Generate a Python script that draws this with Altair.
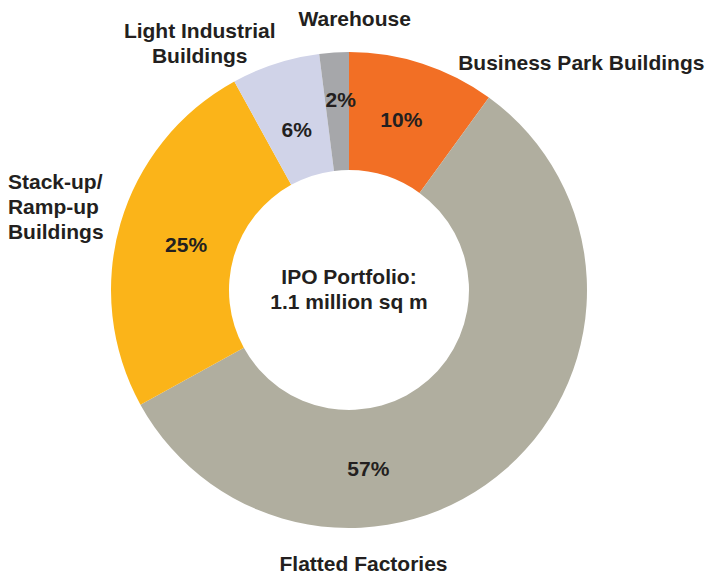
import altair as alt
import pandas as pd

categories = ["Business Park Buildings", "Flatted Factories", "Stack-up/Ramp-up Buildings",
              "Light Industrial Buildings", "Warehouse"]
label_lines = ["Business Park Buildings", "Flatted Factories", "Stack-up/\nRamp-up\nBuildings",
               "Light Industrial\nBuildings", "Warehouse"]
shares = [10, 57, 25, 6, 2]
colors = ["#F26F25", "#B0AE9F", "#FBB419", "#D0D3E8", "#A6A7AA"]
center_text = "IPO Portfolio:\n1.1 million sq m"

df = pd.DataFrame({"category": categories, "label": label_lines, "share": shares,
                   "rank": list(range(len(categories)))})
df["pct"] = df["share"].astype(str) + "%"

FONT = "Liberation Sans, Arial, Helvetica, sans-serif"
TXT = "#231F20"
FS = 21
LH = 25
CX, CY = 341, 282
R_OUT, R_IN = 238, 120

base = alt.Chart(df).encode(
    theta=alt.Theta("share:Q", stack=True),
    order=alt.Order("rank:Q", sort="ascending"),
    x=alt.value(CX), y=alt.value(CY),
)

arcs = base.mark_arc(radius=R_OUT, innerRadius=R_IN).encode(
    color=alt.Color("category:N", scale=alt.Scale(domain=categories, range=colors), legend=None)
)


def label_layer(cat, field, r, dx, dy, align="center"):
    return base.transform_calculate(
        t=f"datum.category === '{cat}' ? datum.{field} : ''"
    ).mark_text(
        radius=r, dx=dx, dy=dy, align=align, baseline="middle", font=FONT, fontSize=FS,
        fontWeight="bold", color=TXT, lineBreak="\n", lineHeight=LH
    ).encode(text="t:N")


# (category, inner offset dx, dy, outer offset dx, dy, outer align)
placements = [
    ("Business Park Buildings", -3, 1, 147, 36, "center"),
    ("Flatted Factories", -99, 46, -168, 68, "center"),
    ("Stack-up/Ramp-up Buildings", 9, 6, -76, -30, "left"),
    ("Light Industrial Buildings", 3, 11, -64, 4, "center"),
    ("Warehouse", 3, -10, 23, 5, "center"),
]

layers = [arcs]
for cat, idx, idy, odx, ody, al in placements:
    layers.append(label_layer(cat, "pct", 179, idx, idy))
    layers.append(label_layer(cat, "label", 276, odx, ody, al))

center = alt.Chart(df).mark_text(
    font=FONT, fontSize=FS, fontWeight="bold", color=TXT, lineBreak="\n", lineHeight=LH,
    align="center", baseline="middle"
).encode(x=alt.value(CX), y=alt.value(CY - 12), text=alt.value(center_text)).transform_filter(
    "datum.rank === 0"
)
layers.append(center)

chart = alt.layer(*layers).properties(
    width=698, height=569, autosize=alt.AutoSizeParams(type="none"), padding=0
).configure_view(stroke=None)

chart.save("out.html", embed_options={"renderer": "svg", "actions": False})
